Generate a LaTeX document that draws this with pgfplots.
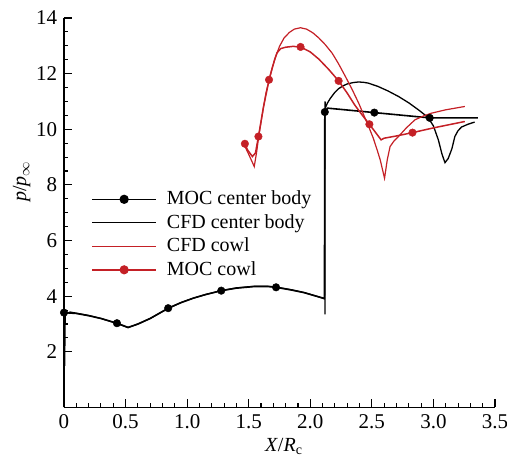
\documentclass[border=0pt]{standalone}
\usepackage{pgfplots}
\pgfplotsset{compat=1.18}
\usepackage{fontspec}
\setmainfont{Liberation Serif}
\definecolor{mocred}{RGB}{196,32,38}
\begin{document}
\fontsize{20}{24}\selectfont
\begin{tikzpicture}
\begin{axis}[
  scale only axis, width=431pt, height=389.5pt,
  xmin=0, xmax=3.5, ymin=0, ymax=14,
  axis x line*=bottom, axis y line*=left,
  axis line style={line width=1.5pt},
  xtick={0,0.5,1,1.5,2,2.5,3,3.5},
  xticklabels={0,0.5,1.0,1.5,2.0,2.5,3.0,3.5},
  ytick={2,4,6,8,10,12,14},
  minor x tick num=4, minor y tick num=3,
  tick align=inside,
  major tick length=8pt, minor tick length=4.5pt,
  every tick/.style={line width=1.1pt, black},
  /pgf/number format/assume math mode=true,
  ticklabel style={font=\fontsize{21}{25}\selectfont},
  xlabel={\textit{X}/\textit{R}\textsubscript{c}},
  xlabel style={at={(axis description cs:0.51,-0.101)}, anchor=center},
  ylabel={\textit{p}/\textit{p}\textsubscript{$\infty$}},
  ylabel style={at={(axis description cs:-0.098,0.58)}, anchor=center},
  legend style={at={(axis description cs:0.063,0.444)}, anchor=west, draw=none, fill=none,
    inner sep=0pt, row sep=0pt,
    nodes={inner xsep=10pt, inner ysep=1pt, text height=16pt, text depth=5.5pt,
      font=\fontsize{20}{24}\selectfont}},
  legend cell align=left,
  legend image code/.code={\draw[mark repeat=2,mark phase=2,#1] plot coordinates {(0pt,0pt)(32pt,0pt)(64pt,0pt)};},
]
% MOC center body line
\addplot[black, line width=1.6pt, forget plot] coordinates {
 (0,3.41)(0.1,3.38)(0.2,3.30)(0.3,3.20)(0.43,3.03)(0.52,2.88)(0.6,3.0)(0.7,3.2)
 (0.846,3.57)(0.95,3.77)(1.05,3.93)(1.15,4.06)(1.277,4.20)(1.4,4.29)(1.55,4.35)
 (1.65,4.35)(1.722,4.32)(1.85,4.22)(1.95,4.13)(2.05,4.0)(2.115,3.92)(2.118,10.62)
 (2.14,10.76)(2.52,10.60)(2.97,10.41)(3.36,10.41)};
\addplot[only marks, mark=*, mark size=3.8pt, black, forget plot] coordinates {
 (0,3.41)(0.43,3.03)(0.846,3.57)(1.277,4.20)(1.722,4.32)(2.118,10.62)(2.52,10.60)(2.97,10.41)};
% CFD center body
\addplot[black, line width=1.3pt, forget plot] coordinates {
 (0.005,1.5)(0.01,3.36)(0.05,3.43)(0.1,3.39)(0.2,3.31)(0.3,3.2)(0.43,3.02)(0.52,2.87)
 (0.6,3.0)(0.7,3.2)(0.846,3.56)(0.95,3.77)(1.05,3.93)(1.15,4.06)(1.277,4.2)(1.4,4.3)
 (1.55,4.36)(1.65,4.36)(1.722,4.33)(1.85,4.23)(1.95,4.13)(2.05,4.0)(2.12,3.9)
 (2.12,3.35)(2.12,11.0)(2.125,10.8)(2.14,10.95)(2.164,11.12)(2.2,11.33)(2.23,11.46)
 (2.27,11.57)(2.3,11.63)(2.35,11.68)(2.39,11.7)(2.43,11.69)(2.47,11.66)(2.55,11.54)
 (2.63,11.38)(2.716,11.18)(2.8,10.95)(2.878,10.7)(2.93,10.52)(2.96,10.40)(3.0,10.12)
 (3.04,9.62)(3.07,9.1)(3.094,8.8)(3.12,8.95)(3.15,9.3)(3.174,9.74)(3.2,9.95)
 (3.228,10.08)(3.28,10.18)(3.335,10.26)};
% CFD cowl
\addplot[mocred, line width=1.2pt, forget plot] coordinates {
 (1.47,9.38)(1.50,9.1)(1.545,8.66)(1.565,9.2)(1.58,9.7)(1.60,10.25)(1.62,10.8)
 (1.64,11.3)(1.665,11.75)(1.69,12.2)(1.72,12.62)(1.75,12.98)(1.787,13.28)(1.83,13.48)
 (1.87,13.6)(1.92,13.65)(1.97,13.6)(2.02,13.47)(2.07,13.28)(2.12,13.05)(2.177,12.74)
 (2.23,12.35)(2.285,11.9)(2.34,11.43)(2.393,10.94)(2.44,10.45)(2.474,10.1)(2.51,9.7)
 (2.54,9.3)(2.568,8.9)(2.603,8.24)(2.625,8.9)(2.648,9.38)(2.68,9.58)(2.716,9.74)
 (2.78,10.05)(2.85,10.34)(2.92,10.48)(2.985,10.58)(3.1,10.7)(3.255,10.82)};
% MOC cowl line
\addplot[mocred, line width=1.5pt, forget plot] coordinates {
 (1.469,9.48)(1.49,9.26)(1.53,9.02)(1.555,9.15)(1.579,9.74)(1.62,10.8)(1.665,11.78)
 (1.71,12.5)(1.73,12.75)(1.76,12.9)(1.8,12.95)(1.86,12.98)(1.921,12.96)(2.0,12.78)
 (2.07,12.52)(2.15,12.15)(2.23,11.74)(2.3,11.3)(2.36,10.88)(2.42,10.52)(2.48,10.18)
 (2.575,9.62)(2.6,9.68)(2.7,9.76)(2.83,9.88)(3.0,10.05)(3.255,10.28)};
\addplot[only marks, mark=*, mark size=3.8pt, mocred, forget plot] coordinates {
 (1.469,9.48)(1.579,9.74)(1.665,11.78)(1.921,12.96)(2.23,11.74)(2.48,10.18)(2.83,9.88)};
\addlegendimage{black, line width=1.6pt, mark=*, mark size=3.8pt}
\addlegendentry{MOC center body}
\addlegendimage{black, line width=1.3pt}
\addlegendentry{CFD center body}
\addlegendimage{mocred, line width=1.2pt}
\addlegendentry{CFD cowl}
\addlegendimage{mocred, line width=1.5pt, mark=*, mark size=3.8pt}
\addlegendentry{MOC cowl}
\end{axis}
\pgfresetboundingbox
\path[use as bounding box] (current axis.south west) ++(-64pt,-53.5pt) rectangle ++(507pt,461pt);
\end{tikzpicture}
\end{document}
